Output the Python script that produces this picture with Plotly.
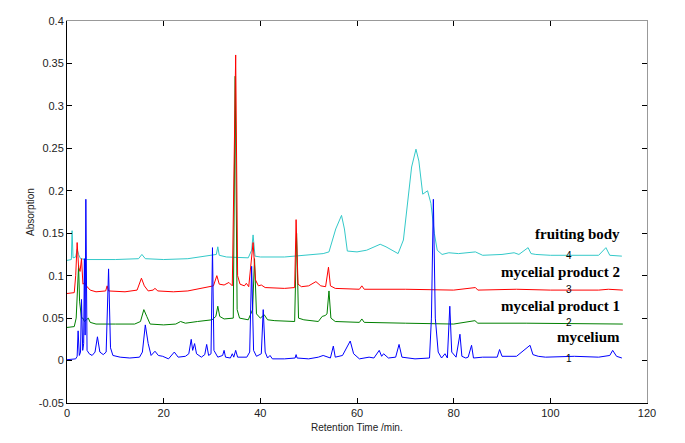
import plotly.graph_objects as go

# ---- data ----
t_mycelium = [0, 1.8, 2.1, 2.3, 2.55, 2.8, 3.0, 3.25, 3.45, 3.6, 3.75, 3.9, 4.15, 4.6, 5.2, 5.8, 6.3, 6.8, 7.5, 8.1,
              8.6, 9.0, 9.5, 11, 13, 15, 15.6, 16.2, 16.8, 17.4, 18.2, 18.9, 19.8, 21, 22.2, 23, 24.5, 25.2, 25.7, 26.0,
              26.4, 26.8, 27.8, 28.5, 28.9, 29.3, 29.8, 30.1, 30.4, 31.2, 32.2, 32.5, 32.8, 33.8, 34.2, 34.5, 34.9, 35.3,
              37.2, 37.8, 38.2, 38.6, 39.2, 40.2, 40.6, 41.0, 41.5, 42, 42.5, 45, 47.2, 47.4, 47.6, 50, 52, 53, 54.5,
              55.1, 55.5, 57, 58.6, 59.3, 60.5, 62.5, 63.5, 64.6, 65.1, 65.5, 66.5, 68, 68.7, 69.3, 72, 75, 75.4, 75.8,
              76.2, 76.8, 77.5, 78.2, 78.7, 79.2, 79.6, 80.5, 81.3, 81.7, 82.5, 83.0, 83.7, 84.1, 86, 89, 89.5, 90, 93,
              95.8, 96.4, 97.5, 99, 105, 110, 112.3, 112.9, 113.7, 114.8]
y_mycelium = [0.001, 0.002, 0.005, 0.035, 0.006, 0.01, 0.072, 0.012, 0.02, 0.12, 0.03, 0.19, 0.012, 0.008, 0.006, 0.01,
              0.028, 0.01, 0.007, 0.01, 0.108, 0.015, 0.006, 0.004, 0.003, 0.004, 0.01, 0.042, 0.02, 0.006, 0.011,
              0.006, 0.005, 0.002, 0.01, 0.004, 0.005, 0.008, 0.025, 0.012, 0.02, 0.008, 0.004, 0.007, 0.019, 0.006,
              0.008, 0.133, 0.012, 0.004, 0.006, 0.012, 0.004, 0.003, 0.008, 0.004, 0.012, 0.004, 0.004, 0.01, 0.111,
              0.012, 0.005, 0.008, 0.06, 0.01, 0.003, 0.006, 0.002, 0.002, 0.003, 0.007, 0.003, 0.002, 0.004, 0.006,
              0.003, 0.017, 0.004, 0.006, 0.023, 0.008, 0.002, 0.004, 0.003, 0.012, 0.005, 0.008, 0.003, 0.004, 0.019,
              0.004, 0.002, 0.003, 0.05, 0.19, 0.05, 0.01, 0.003, 0.008, 0.003, 0.064, 0.01, 0.004, 0.031, 0.005,
              0.003, 0.004, 0.018, 0.003, 0.004, 0.004, 0.013, 0.005, 0.005, 0.018, 0.007, 0.005, 0.004, 0.005, 0.004,
              0.006, 0.012, 0.005, 0.003]

t_product1 = [0, 1.5, 1.9, 2.2, 2.4, 2.6, 2.8, 3.0, 3.3, 3.6, 4.0, 4.4, 4.8, 6, 10, 14, 15.2, 15.9, 16.5, 17.2, 20,
              22.5, 23.5, 24.5, 27, 30, 30.8, 31.2, 31.6, 32.5, 34.4, 34.8, 35.2, 35.7, 37.5, 38.4, 38.8, 39.2, 40,
              40.8, 41.5, 43, 47.1, 47.5, 47.9, 49, 52, 52.8, 53.4, 53.8, 54.2, 54.6, 55.5, 60.5, 61, 61.5, 70, 80,
              84.4, 85, 95, 115]
y_product1 = [0.039, 0.04, 0.05, 0.085, 0.112, 0.07, 0.06, 0.05, 0.05, 0.046, 0.048, 0.05, 0.045, 0.043, 0.043, 0.043,
              0.046, 0.06, 0.052, 0.043, 0.042, 0.043, 0.046, 0.044, 0.046, 0.048, 0.052, 0.064, 0.052, 0.049, 0.05,
              0.335, 0.06, 0.05, 0.048, 0.06, 0.12, 0.055, 0.05, 0.054, 0.048, 0.047, 0.046, 0.15, 0.05, 0.048, 0.046,
              0.052, 0.053, 0.055, 0.082, 0.05, 0.046, 0.045, 0.049, 0.045, 0.044, 0.043, 0.047, 0.044, 0.044, 0.043]

t_product2 = [0, 1.5, 1.8, 2.1, 2.4, 2.7, 3.0, 3.3, 3.7, 4.0, 4.8, 6, 8.0, 8.3, 8.6, 12, 14.5, 15.4, 16, 16.8, 17.8,
              18.2, 18.8, 22, 25, 28, 30.3, 31.0, 31.5, 32.5, 33.5, 34.2, 34.9, 35.3, 35.8, 36.7, 37.1, 37.6, 38.5,
              39.0, 39.6, 40.2, 41, 45, 47.1, 47.4, 47.8, 48.5, 50, 51.5, 52.5, 53.5, 54.1, 54.5, 55.5, 60.5, 61, 61.5,
              70, 80, 84.5, 85, 93, 100, 110, 112, 115]
y_product2 = [0.079, 0.08, 0.1, 0.139, 0.11, 0.105, 0.12, 0.09, 0.092, 0.088, 0.083, 0.081, 0.082, 0.088, 0.082, 0.081,
              0.083, 0.097, 0.088, 0.082, 0.083, 0.085, 0.082, 0.081, 0.082, 0.085, 0.088, 0.1, 0.09, 0.089, 0.092,
              0.088, 0.36, 0.1, 0.09, 0.088, 0.091, 0.087, 0.139, 0.095, 0.088, 0.089, 0.086, 0.085, 0.086, 0.166,
              0.09, 0.087, 0.088, 0.093, 0.088, 0.087, 0.11, 0.088, 0.085, 0.084, 0.088, 0.084, 0.084, 0.083, 0.086,
              0.083, 0.084, 0.083, 0.083, 0.084, 0.083]

t_fruiting = [0, 0.9, 1.05, 1.25, 1.8, 2.1, 2.4, 2.8, 4, 10, 14.8, 15.5, 16.2, 20, 25, 30, 30.9, 31.2, 31.5, 33, 37.5,
              38.2, 38.5, 38.9, 40, 45, 50, 53, 54.2, 55, 55.6, 56.8, 57.4, 58.0, 60, 62, 64.8, 66, 68.5, 69.6, 70.4,
              71.3, 72.2, 72.8, 73.6, 74.6, 75.3, 76.0, 76.6, 77.6, 79, 81, 84.5, 86, 90, 92.5, 93.5, 95.4, 96, 97,
              100, 110, 111.5, 112.3, 114.8]
y_fruiting = [0.118, 0.119, 0.153, 0.121, 0.122, 0.131, 0.125, 0.12, 0.119, 0.119, 0.12, 0.125, 0.12, 0.119, 0.12,
              0.124, 0.125, 0.134, 0.124, 0.122, 0.121, 0.13, 0.148, 0.123, 0.122, 0.122, 0.124, 0.126, 0.128, 0.145,
              0.155, 0.171, 0.155, 0.129, 0.128, 0.13, 0.137, 0.134, 0.126, 0.142, 0.18, 0.228, 0.249, 0.235, 0.196,
              0.2, 0.185, 0.15, 0.13, 0.125, 0.127, 0.126, 0.128, 0.124, 0.125, 0.127, 0.125, 0.133, 0.126, 0.125,
              0.124, 0.124, 0.133, 0.124, 0.123]

series_names = ["fruiting body", "mycelial product 2", "mycelial product 1", "mycelium"]
series_numbers = ["4", "3", "2", "1"]
name_label_y = [0.149, 0.104, 0.064, 0.0273]
number_label_y = [0.124, 0.084, 0.0447, 0.002]
name_label_x = 114.8
number_label_x = 103.9

x_ticks = [0, 20, 40, 60, 80, 100, 120]
y_ticks = [-0.05, 0, 0.05, 0.1, 0.15, 0.2, 0.25, 0.3, 0.35, 0.4]
y_tick_text = ["-0.05", "0", "0.05", "0.1", "0.15", "0.2", "0.25", "0.3", "0.35", "0.4"]

# ---- figure ----
colors = {"fruiting": "#33c9c9", "p2": "#ff0000", "p1": "#008000", "myc": "#0000ff"}

fig = go.Figure()
fig.add_trace(go.Scatter(x=t_fruiting, y=y_fruiting, mode="lines", line=dict(color=colors["fruiting"], width=1)))
fig.add_trace(go.Scatter(x=t_product1, y=y_product1, mode="lines", line=dict(color=colors["p1"], width=1)))
fig.add_trace(go.Scatter(x=t_product2, y=y_product2, mode="lines", line=dict(color=colors["p2"], width=1)))
fig.add_trace(go.Scatter(x=t_mycelium, y=y_mycelium, mode="lines", line=dict(color=colors["myc"], width=1)))
# empty trace so mirrored top/right axes are drawn
fig.add_trace(go.Scatter(x=[None], y=[None], xaxis="x2", yaxis="y2", showlegend=False, hoverinfo="skip"))

tickfont = dict(family="Liberation Sans, Arial, sans-serif", size=11, color="#222222")

fig.update_layout(
    width=685, height=443,
    margin=dict(l=59, r=46, t=7, b=48),
    paper_bgcolor="white", plot_bgcolor="white",
    showlegend=False,
    xaxis=dict(range=[0, 120], tickvals=x_ticks, ticks="inside", ticklen=5, tickcolor="#000",
               showline=True, linecolor="#000", linewidth=1, showgrid=False, zeroline=False,
               tickfont=tickfont),
    yaxis=dict(range=[-0.05, 0.4], tickvals=y_ticks, ticktext=y_tick_text, ticks="inside", ticklen=5,
               tickcolor="#000", showline=True, linecolor="#000", linewidth=1, showgrid=False,
               zeroline=False, tickfont=tickfont),
    xaxis2=dict(range=[0, 120], tickvals=x_ticks, overlaying="x", side="top", ticks="inside", ticklen=5,
                tickcolor="#000", showline=True, linecolor="#999999", linewidth=1, showgrid=False,
                zeroline=False, showticklabels=False),
    yaxis2=dict(range=[-0.05, 0.4], tickvals=y_ticks, overlaying="y", side="right", ticks="inside",
                ticklen=5, tickcolor="#000", showline=True, linecolor="#999999", linewidth=1,
                showgrid=False, zeroline=False, showticklabels=False),
)

annotations = []
for name, yv in zip(series_names, name_label_y):
    annotations.append(dict(x=name_label_x, y=yv, xref="x", yref="y", text="<b>" + name + "</b>",
                            showarrow=False, xanchor="right", yanchor="middle",
                            font=dict(family="Liberation Serif, Times New Roman, serif", size=15, color="#000")))
for num, yv in zip(series_numbers, number_label_y):
    annotations.append(dict(x=number_label_x, y=yv, xref="x", yref="y", text=num, showarrow=False,
                            xanchor="center", yanchor="middle",
                            font=dict(family="Liberation Sans, Arial, sans-serif", size=10, color="#000")))
annotations.append(dict(x=0.5, y=0.0, xref="paper", yref="paper", text="Retention Time /min.", showarrow=False,
                        xanchor="center", yanchor="top", yshift=-17,
                        font=dict(family="Liberation Sans, Arial, sans-serif", size=10, color="#222")))
annotations.append(dict(x=0, y=0.5, xref="paper", yref="paper", text="Absorption", showarrow=False,
                        xanchor="center", yanchor="middle", xshift=-37, textangle=-90,
                        font=dict(family="Liberation Sans, Arial, sans-serif", size=10, color="#222")))
fig.update_layout(annotations=annotations)

fig.write_html("out.html")
